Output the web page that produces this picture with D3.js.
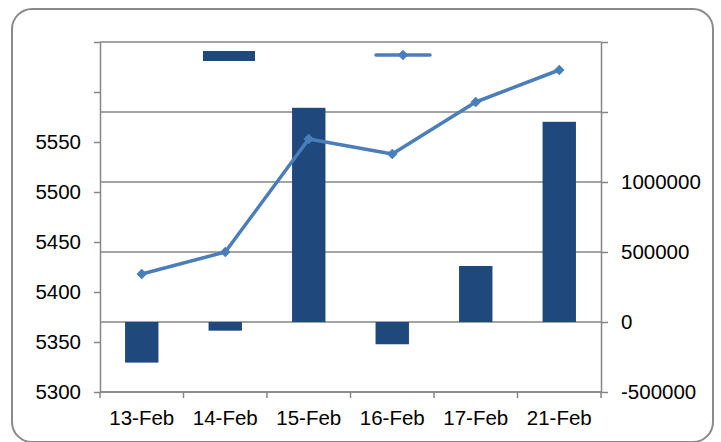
<!DOCTYPE html>
<html>
<head>
<meta charset="utf-8">
<script src="https://cdn.jsdelivr.net/npm/d3@7"></script>
<style>
  html, body { margin: 0; padding: 0; background: #fff; }
  svg { display: block; }
  text { font-family: "Liberation Sans", Arial, sans-serif; fill: #000; }
</style>
</head>
<body>
<svg id="chart" width="721" height="442"></svg>
<script>
// Trading days
const categories = ["13-Feb", "14-Feb", "15-Feb", "16-Feb", "17-Feb", "21-Feb"];
// Bar series (right axis)
const barValues = [-290000, -62000, 1530000, -159000, 400000, 1430000];
// Line series (left axis)
const lineValues = [5418, 5440, 5553, 5538, 5590, 5622];
// Axis ticks and their printed labels
const leftTicks = [5300, 5350, 5400, 5450, 5500, 5550, 5600, 5650];
const leftTickLabels = ["5300", "5350", "5400", "5450", "5500", "5550", "", ""];
const rightTicks = [-500000, 0, 500000, 1000000, 1500000, 2000000];
const rightTickLabels = ["-500000", "0", "500000", "1000000", "", ""];

const svg = d3.select("#chart");
const plot = { left: 100, right: 601, top: 42, bottom: 392 };
const axisColor = "#868686";
const barColor = "#1F497D";
const lineColor = "#4A7EBB";

// Outer rounded frame
svg.append("rect")
  .attr("x", 12).attr("y", 9)
  .attr("width", 701).attr("height", 433)
  .attr("rx", 20).attr("ry", 20)
  .attr("fill", "#fff")
  .attr("stroke", "#8a8a8a").attr("stroke-width", 2);

const x = d3.scaleBand().domain(categories).range([plot.left, plot.right]).paddingInner(0).paddingOuter(0);
const yL = d3.scaleLinear().domain([5300, 5650]).range([plot.bottom, plot.top]);
const yR = d3.scaleLinear().domain([-500000, 2000000]).range([plot.bottom, plot.top]);

// Horizontal gridlines follow the right axis
svg.append("g").selectAll("line").data(rightTicks).join("line")
  .attr("x1", plot.left).attr("x2", plot.right)
  .attr("y1", d => yR(d)).attr("y2", d => yR(d))
  .attr("stroke", axisColor).attr("stroke-width", 1.5);

function styleAxis(g) {
  g.select(".domain").attr("stroke", axisColor).attr("stroke-width", 1.5);
  g.selectAll(".tick line").attr("stroke", axisColor).attr("stroke-width", 1.5);
  g.selectAll(".tick text").style("font-size", "20.5px").attr("fill", "#000");
}

// Left axis
svg.append("g")
  .attr("transform", `translate(${plot.left},0)`)
  .call(d3.axisLeft(yL).tickValues(leftTicks).tickSize(6).tickSizeOuter(0).tickPadding(13)
    .tickFormat((d, i) => leftTickLabels[i]))
  .call(styleAxis);

// Right axis
svg.append("g")
  .attr("transform", `translate(${plot.right},0)`)
  .call(d3.axisRight(yR).tickValues(rightTicks).tickSize(7).tickSizeOuter(0).tickPadding(13)
    .tickFormat((d, i) => rightTickLabels[i]))
  .call(styleAxis);

// Bars
const barW = x.bandwidth() * 0.4;
svg.append("g").selectAll("rect").data(barValues).join("rect")
  .attr("x", (d, i) => x(categories[i]) + (x.bandwidth() - barW) / 2)
  .attr("width", barW)
  .attr("y", d => yR(Math.max(0, d)))
  .attr("height", d => Math.abs(yR(d) - yR(0)))
  .attr("fill", barColor);

// Bottom axis with ticks at category boundaries
const gx = svg.append("g").attr("transform", `translate(0,${plot.bottom})`);
gx.append("line")
  .attr("x1", plot.left).attr("x2", plot.right)
  .attr("stroke", axisColor).attr("stroke-width", 1.5);
const boundaries = categories.map(c => x(c)).concat([plot.right]);
gx.selectAll("line.tk").data(boundaries).join("line").attr("class", "tk")
  .attr("x1", d => d).attr("x2", d => d).attr("y1", 0).attr("y2", 6)
  .attr("stroke", axisColor).attr("stroke-width", 1.5);
gx.selectAll("text").data(categories).join("text")
  .attr("x", d => x(d) + x.bandwidth() / 2)
  .attr("y", 26)
  .attr("dy", "0.32em")
  .attr("text-anchor", "middle")
  .style("font-size", "20.5px")
  .text(d => d);

// Line series with diamond markers
const line = d3.line().x((d, i) => x(categories[i]) + x.bandwidth() / 2).y(d => yL(d));
svg.append("path").datum(lineValues)
  .attr("d", line)
  .attr("fill", "none").attr("stroke", lineColor).attr("stroke-width", 3.5)
  .attr("stroke-linejoin", "round");
const diamond = d3.symbol().type(d3.symbolDiamond2).size(70);
svg.append("g").selectAll("path").data(lineValues).join("path")
  .attr("transform", (d, i) => `translate(${x(categories[i]) + x.bandwidth() / 2},${yL(d)})`)
  .attr("d", diamond)
  .attr("fill", lineColor);

// Legend swatches
const legend = svg.append("g");
legend.append("rect")
  .attr("x", 203).attr("y", 51).attr("width", 52).attr("height", 10)
  .attr("fill", barColor);
legend.append("line")
  .attr("x1", 376).attr("x2", 430).attr("y1", 55).attr("y2", 55)
  .attr("stroke", lineColor).attr("stroke-width", 3.5).attr("stroke-linecap", "round");
legend.append("path")
  .attr("transform", "translate(403,55)")
  .attr("d", diamond)
  .attr("fill", lineColor);
</script>
</body>
</html>
